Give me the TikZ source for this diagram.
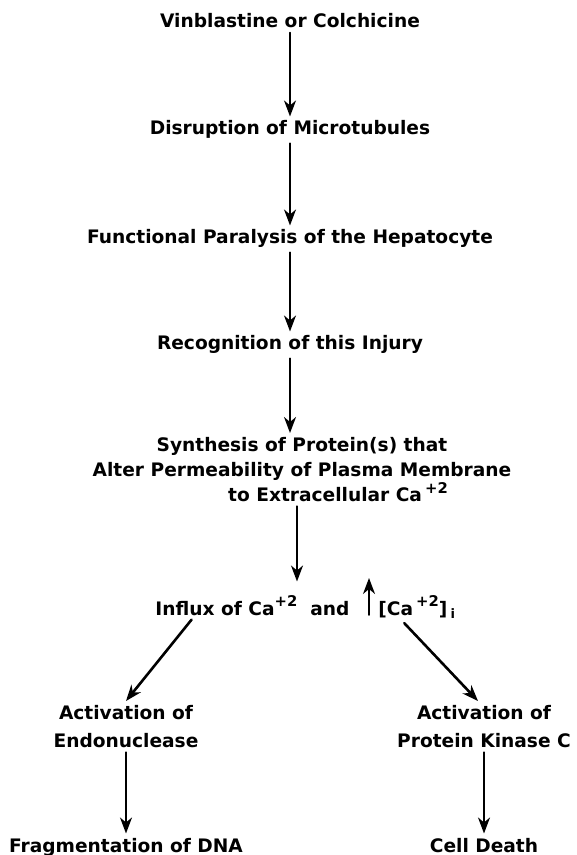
\documentclass[tikz,border=0pt]{standalone}
\usepackage{fontspec}
\setmainfont{DejaVu Sans}
\usetikzlibrary{calc,arrows.meta}

\newcommand{\charge}[1]{\raisebox{0.8ex}{\fontsize{7.4}{7.4}\selectfont#1}}

\begin{document}
\begin{tikzpicture}[x=0.5pt, y=-0.5pt, line cap=round,
    stage/.style={inner sep=2pt, font=\bfseries\fontsize{9.3}{12.5}\selectfont},
    flow/.style={-{Stealth[length=8pt,width=6pt,inset=2.5pt]}, line width=0.9pt},
    diag/.style={flow, line width=1.3pt}]
  % Frame (pixels of the original sheet)
  \useasboundingbox (0,0) rectangle (577,855);

  % Main column
  \node[stage, anchor=base] (vin) at (290,28)  {Vinblastine or Colchicine};
  \node[stage, anchor=base] (dis) at (290,135) {Disruption of Microtubules};
  \node[stage, anchor=base] (fun) at (290,244) {Functional Paralysis of the Hepatocyte};
  \node[stage, anchor=base] (rec) at (290,350) {Recognition of this Injury};
  \node[stage, anchor=north, align=center] (syn) at (302,433)
    {Synthesis of Protein(s) that\\ Alter Permeability of Plasma Membrane\\
     \hspace*{36pt}to Extracellular Ca\,\charge{+2}};

  % Calcium line
  \node[stage, anchor=base west] (influx) at (151,615) {Influx of Ca\charge{+2}\ \ and};
  \node[stage, anchor=base west] (cai) at (374,615) {[Ca\,\charge{+2}]\,\textsubscript{i}};
  \coordinate (risefoot) at (369,615);
  \coordinate (risetop)  at (369,578);

  % Branches
  \node[stage, anchor=north, align=center] (endo) at (126,701) {Activation of\\[1.5pt] Endonuclease};
  \node[stage, anchor=north, align=center] (pkc)  at (484,701) {Activation of\\[1.5pt] Protein Kinase C};
  \node[stage, anchor=base] (frag)  at (126,852) {Fragmentation of DNA};
  \node[stage, anchor=base] (death) at (484,852) {Cell Death};

  % Arrows
  \draw[flow] (vin) -- (dis);
  \draw[flow] (dis) -- (fun);
  \draw[flow] (fun) -- (rec);
  \draw[flow] (rec) -- (rec |- syn.north);
  \draw[flow, shorten >=5pt] ([xshift=-2.5pt]syn.south) -- ([xshift=-2.5pt]syn.south |- influx.north);
  \draw[flow] (risefoot) -- (risetop);
  \draw[diag] ($(influx.south west)!0.2!(influx.south east)$) -- (endo.north);
  \draw[diag] ($(cai.south west)!0.35!(cai.south east)$) -- ($(pkc.north)+(-6,0)$);
  \draw[flow] (endo) -- (frag);
  \draw[flow] (pkc) -- (death);
\end{tikzpicture}
\end{document}
